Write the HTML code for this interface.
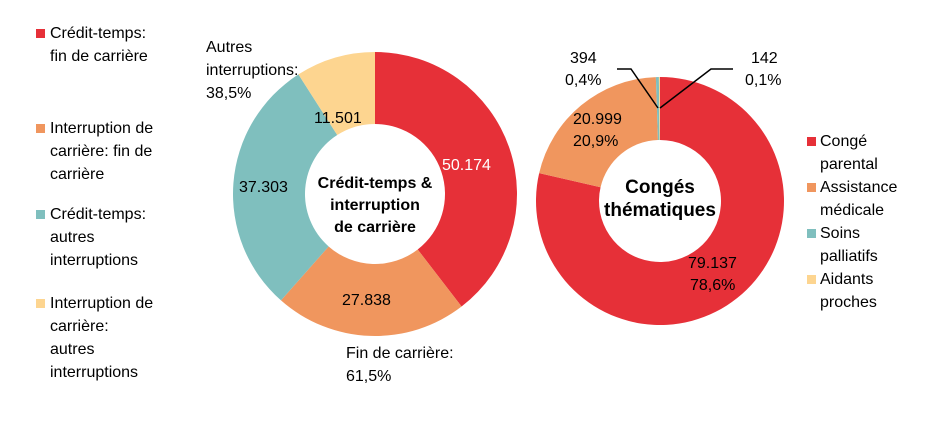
<!DOCTYPE html>
<html><head><meta charset="utf-8"><style>
body{margin:0;background:#fff;width:945px;height:439px;overflow:hidden;font-family:"Liberation Sans",sans-serif}
svg text{font-family:"Liberation Sans",sans-serif;font-size:16px;fill:#000}
</style></head><body>
<svg id="s" width="945" height="439" xmlns="http://www.w3.org/2000/svg">
<g id="g"></g>
<!-- left legend -->
<rect x="36" y="29" width="9" height="9" fill="#E63038"/>
<text x="50" y="38">Crédit-temps:</text><text x="50" y="61">fin de carrière</text>
<rect x="36" y="124" width="9" height="9" fill="#F0965E"/>
<text x="50" y="133">Interruption de</text><text x="50" y="156">carrière: fin de</text><text x="50" y="179">carrière</text>
<rect x="36" y="210" width="9" height="9" fill="#7FBFBE"/>
<text x="50" y="219">Crédit-temps:</text><text x="50" y="242">autres</text><text x="50" y="265">interruptions</text>
<rect x="36" y="299" width="9" height="9" fill="#FDD590"/>
<text x="50" y="308">Interruption de</text><text x="50" y="331">carrière:</text><text x="50" y="354">autres</text><text x="50" y="377">interruptions</text>
<!-- left labels -->
<text x="206" y="52">Autres</text><text x="206" y="75">interruptions:</text><text x="206" y="98">38,5%</text>
<text x="314" y="123">11.501</text>
<text x="442" y="170" style="fill:#fff">50.174</text>
<text x="239" y="192">37.303</text>
<text x="342" y="305">27.838</text>
<text x="346" y="358">Fin de carrière:</text><text x="346" y="381">61,5%</text>
<text x="375" y="188" text-anchor="middle" style="font-weight:bold">Crédit-temps &amp;</text>
<text x="375" y="210" text-anchor="middle" style="font-weight:bold">interruption</text>
<text x="375" y="232" text-anchor="middle" style="font-weight:bold">de carrière</text>
<!-- right labels -->
<text x="570" y="63">394</text><text x="565" y="85">0,4%</text>
<text x="751" y="63">142</text><text x="745" y="85">0,1%</text>
<polyline points="617,69 631,69 658,108" fill="none" stroke="#000" stroke-width="1.5"/>
<polyline points="733,69 711,69 660,108" fill="none" stroke="#000" stroke-width="1.5"/>
<text x="573" y="124">20.999</text><text x="573" y="146">20,9%</text>
<text x="688" y="268">79.137</text><text x="690" y="290">78,6%</text>
<text x="660" y="193" text-anchor="middle" style="font-weight:bold;font-size:19px">Congés</text>
<text x="660" y="216" text-anchor="middle" style="font-weight:bold;font-size:19px">thématiques</text>
<!-- right legend -->
<rect x="807" y="137" width="9" height="9" fill="#E63038"/>
<text x="820" y="146">Congé</text><text x="820" y="169">parental</text>
<rect x="807" y="183" width="9" height="9" fill="#F0965E"/>
<text x="820" y="192">Assistance</text><text x="820" y="215">médicale</text>
<rect x="807" y="229" width="9" height="9" fill="#7FBFBE"/>
<text x="820" y="238">Soins</text><text x="820" y="261">palliatifs</text>
<rect x="807" y="275" width="9" height="9" fill="#FDD590"/>
<text x="820" y="284">Aidants</text><text x="820" y="307">proches</text>
</svg>
<script>
function donut(cx,cy,R,r,vals,cols){
 var g=document.getElementById('g'),t=vals.reduce(function(a,b){return a+b},0),a=0,s='';
 vals.forEach(function(v,i){
  var a2=a+v/t*2*Math.PI,l=(a2-a)>Math.PI?1:0;
  function p(rad,ang){return [cx+rad*Math.sin(ang),cy-rad*Math.cos(ang)].join(',')}
  s+='<path d="M'+p(R,a)+'A'+R+','+R+' 0 '+l+' 1 '+p(R,a2)+'L'+p(r,a2)+'A'+r+','+r+' 0 '+l+' 0 '+p(r,a)+'Z" fill="'+cols[i]+'"/>';
  a=a2;});
 g.innerHTML+=s;
}
var C=['#E63038','#F0965E','#7FBFBE','#FDD590'];
donut(375,194,142,70,[50174,27838,37303,11501],C);
donut(660,201,124,61,[79137,20999,394,142],C);
</script>
</body></html>
